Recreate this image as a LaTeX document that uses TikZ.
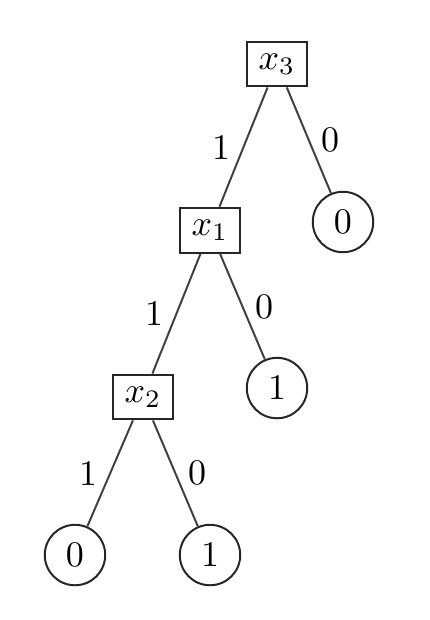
\documentclass[tikz,border=0pt]{standalone}
\usepackage{tikz}
\usepackage{amsmath}
\usepackage{amssymb}

\begin{document}
\begin{tikzpicture}[line width=0.55pt]
            \useasboundingbox (0,0) rectangle (4.197,6.052);
            \begin{scope}[every node/.style={rectangle,draw=black!85,minimum width=5.6mm,minimum height=4.1mm}]
                \node (x3) at (2.704,5.427) {$x_3$};
                \node (x1) at (2.050,3.806) {$x_1$};
                \node (x2) at (1.396,2.177) {$x_2$};
            \end{scope}
            \begin{scope}[every node/.style={circle,draw=black!85,minimum size=5.9mm,inner sep=1pt}]
                \node (l0a) at (3.348,3.885) {$0$};
                \node (l1a) at (2.704,2.264) {$1$};
                \node (l0b) at (0.732,0.634) {$0$};
                \node (l1b) at (2.050,0.634) {$1$};
            \end{scope}
            \draw (x3) edge [black!75] node[left,text=black]{1} (x1);
            \draw (x3) edge [black!75] node[right,text=black]{0} (l0a);
            \draw (x1) edge [black!75] node[left,text=black]{1} (x2);
            \draw (x1) edge [black!75] node[right,text=black]{0} (l1a);
            \draw (x2) edge [black!75] node[left,text=black]{1} (l0b);
            \draw (x2) edge [black!75] node[right,text=black]{0} (l1b);
        \end{tikzpicture}
\end{document}
